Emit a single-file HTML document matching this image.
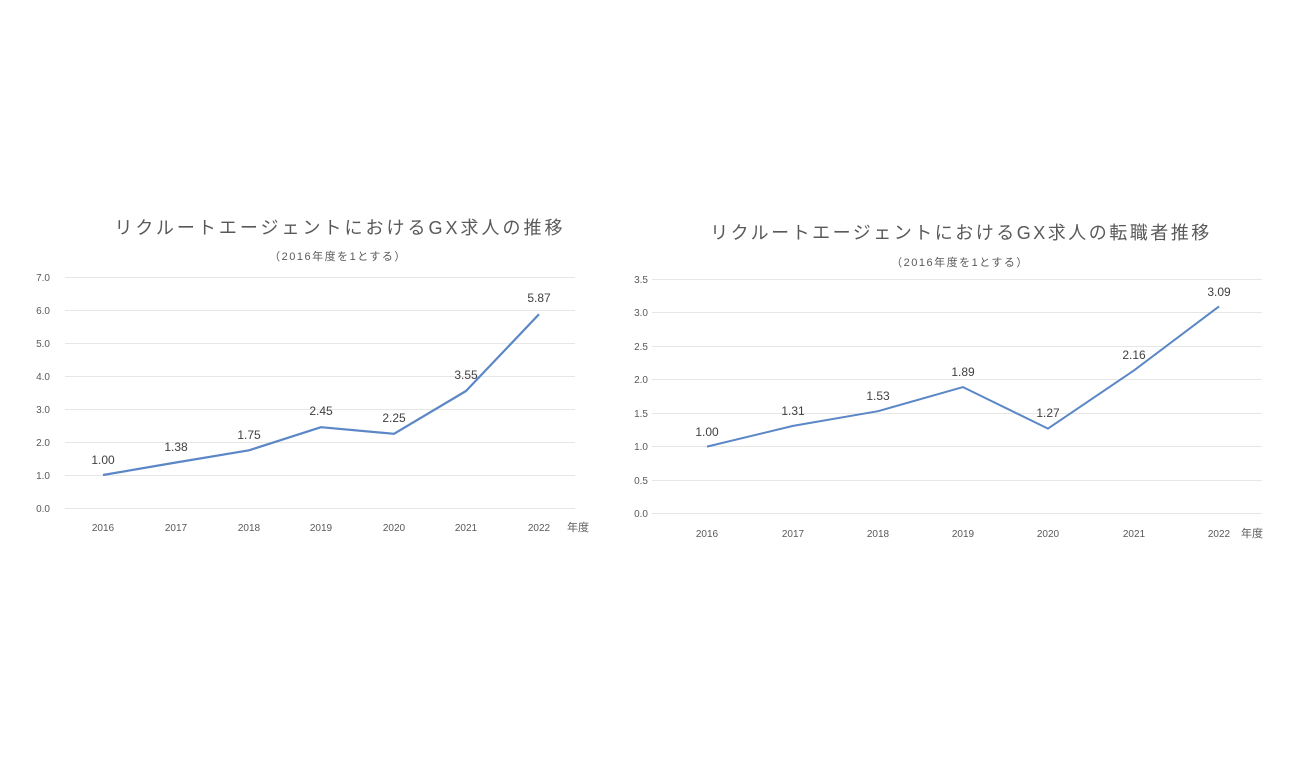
<!DOCTYPE html>
<html><head><meta charset="utf-8"><style>
body{margin:0;background:#fff;}
svg text{font-family:"Liberation Sans","Noto Sans CJK JP",sans-serif;}
</style></head><body>
<svg width="1300" height="760" xmlns="http://www.w3.org/2000/svg">
<rect width="1300" height="760" fill="#fff"/>
<!-- Left chart -->
<text x="340" y="234" font-size="18" fill="#595959" text-anchor="middle" letter-spacing="3">リクルートエージェントにおけるGX求人の推移</text>
<text x="338" y="260" font-size="11" fill="#595959" text-anchor="middle" letter-spacing="1.5">（2016年度を1とする）</text>
<g stroke="#e6e6e6" stroke-width="1">
<line x1="65" x2="575" y1="277.5" y2="277.5"/><line x1="65" x2="575" y1="310.5" y2="310.5"/>
<line x1="65" x2="575" y1="343.5" y2="343.5"/><line x1="65" x2="575" y1="376.5" y2="376.5"/>
<line x1="65" x2="575" y1="409.5" y2="409.5"/><line x1="65" x2="575" y1="442.5" y2="442.5"/>
<line x1="65" x2="575" y1="475.5" y2="475.5"/><line x1="65" x2="575" y1="508.5" y2="508.5"/>
</g>
<g font-size="10" fill="#595959" text-anchor="end">
<text x="50" y="281">7.0</text><text x="50" y="314">6.0</text><text x="50" y="347">5.0</text>
<text x="50" y="380">4.0</text><text x="50" y="413">3.0</text><text x="50" y="446">2.0</text>
<text x="50" y="479">1.0</text><text x="50" y="512">0.0</text>
</g>
<g font-size="10" fill="#595959" text-anchor="middle">
<text x="103" y="531">2016</text><text x="176" y="531">2017</text><text x="249" y="531">2018</text>
<text x="321" y="531">2019</text><text x="394" y="531">2020</text><text x="466" y="531">2021</text>
<text x="539" y="531">2022</text><text x="578" y="531" font-size="11">年度</text>
</g>
<polyline fill="none" stroke="#5b87c6" stroke-width="2.2" stroke-linejoin="round"
points="103,475 176,462.5 249,450.3 321,427.2 394,433.8 466,391 539,314.3"/>
<g font-size="12" fill="#404040" text-anchor="middle">
<text x="103" y="464">1.00</text><text x="176" y="451">1.38</text><text x="249" y="439">1.75</text>
<text x="321" y="415">2.45</text><text x="394" y="422">2.25</text><text x="466" y="379">3.55</text>
<text x="539" y="302">5.87</text>
</g>
<!-- Right chart -->
<text x="961" y="239" font-size="18" fill="#595959" text-anchor="middle" letter-spacing="2.5">リクルートエージェントにおけるGX求人の転職者推移</text>
<text x="960" y="266" font-size="11" fill="#595959" text-anchor="middle" letter-spacing="1.5">（2016年度を1とする）</text>
<g stroke="#e6e6e6" stroke-width="1">
<line x1="652" x2="1262" y1="279.5" y2="279.5"/><line x1="652" x2="1262" y1="312.5" y2="312.5"/>
<line x1="652" x2="1262" y1="346.5" y2="346.5"/><line x1="652" x2="1262" y1="379.5" y2="379.5"/>
<line x1="652" x2="1262" y1="413.5" y2="413.5"/><line x1="652" x2="1262" y1="446.5" y2="446.5"/>
<line x1="652" x2="1262" y1="480.5" y2="480.5"/><line x1="652" x2="1262" y1="513.5" y2="513.5"/>
</g>
<g font-size="10" fill="#595959" text-anchor="end">
<text x="648" y="283">3.5</text><text x="648" y="316">3.0</text><text x="648" y="350">2.5</text>
<text x="648" y="383">2.0</text><text x="648" y="417">1.5</text><text x="648" y="450">1.0</text>
<text x="648" y="484">0.5</text><text x="648" y="517">0.0</text>
</g>
<g font-size="10" fill="#595959" text-anchor="middle">
<text x="707" y="537">2016</text><text x="793" y="537">2017</text><text x="878" y="537">2018</text>
<text x="963" y="537">2019</text><text x="1048" y="537">2020</text><text x="1134" y="537">2021</text>
<text x="1219" y="537">2022</text><text x="1252" y="537" font-size="11">年度</text>
</g>
<polyline fill="none" stroke="#5b87c6" stroke-width="2" stroke-linejoin="round"
points="707,446.6 793,425.9 878,411.2 963,387.1 1048,428.6 1134,370.4 1219,306.4"/>
<g font-size="12" fill="#404040" text-anchor="middle">
<text x="707" y="436">1.00</text><text x="793" y="415">1.31</text><text x="878" y="400">1.53</text>
<text x="963" y="376">1.89</text><text x="1048" y="417">1.27</text><text x="1134" y="359">2.16</text>
<text x="1219" y="296">3.09</text>
</g>
</svg>
</body></html>
